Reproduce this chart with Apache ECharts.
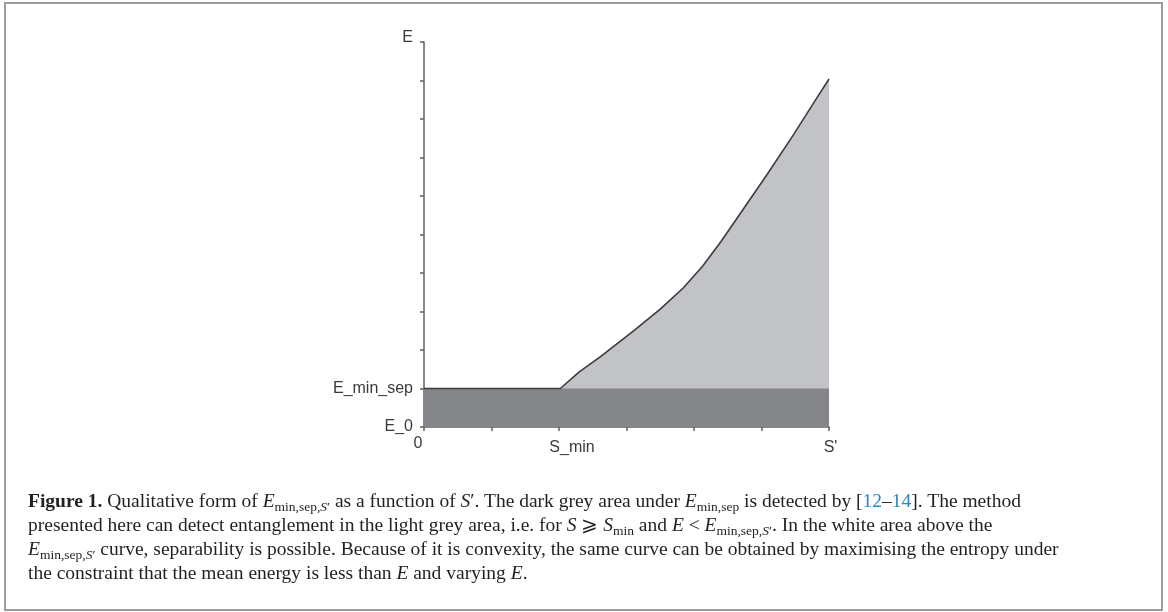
<!DOCTYPE html>
<html>
<head>
<meta charset="utf-8">
<script src="https://cdn.jsdelivr.net/npm/echarts@6/dist/echarts.min.js"></script>
<style>
  html, body { margin: 0; padding: 0; background: #fff; }
  #wrap { position: relative; width: 1168px; height: 612px; }
  #chart { position: absolute; left: 0; top: 0; width: 1168px; height: 612px; }
  #caption {
    position: absolute; left: 28px; top: 489px; width: 1130px;
    font-family: "Liberation Serif", "DejaVu Serif", serif;
    font-size: 19.5px; line-height: 24px; color: #231f20; white-space: nowrap;
  }
  #caption i { font-style: italic; }
  #caption sub { font-size: 13.5px; vertical-align: -4px; line-height: 0; }
  #caption .ref { color: #2a86c2; }
</style>
</head>
<body>
<div id="wrap">
  <div id="chart"></div>
  <div id="caption">
    <b>Figure 1.</b> Qualitative form of <i>E</i><sub>min,sep,<i>S</i>′</sub> as a function of <i>S</i>′. The dark grey area under <i>E</i><sub>min,sep</sub> is detected by [<span class="ref">12</span>–<span class="ref">14</span>]. The method<br>
    presented here can detect entanglement in the light grey area, i.e. for <i>S</i> ⩾ <i>S</i><sub>min</sub> and <i>E</i> &lt; <i>E</i><sub>min,sep,<i>S</i>′</sub>. In the white area above the<br>
    <i>E</i><sub>min,sep,<i>S</i>′</sub> curve, separability is possible. Because of it is convexity, the same curve can be obtained by maximising the entropy under<br>
    the constraint that the mean energy is less than <i>E</i> and varying <i>E</i>.
  </div>
</div>
<script>
// ---- data ----
const curveS = [0, 2.02, 2.30, 2.61, 3.10, 3.50, 3.84, 4.13, 4.40, 4.64, 5.08, 5.47, 5.82, 6.0];
const curveE = [1, 1.00, 1.43, 1.82, 2.49, 3.06, 3.61, 4.18, 4.82, 5.43, 6.55, 7.58, 8.55, 9.04];
const bandS = [0, 6];
const bandE = [1, 1];
const xTickValues = [0, 2, 6];
const xTickLabels = ['0', 'S_min', "S'"];
const yTickValues = [0, 1, 10];
const yTickLabels = ['E_0', 'E_min_sep', 'E'];

const curveData = curveS.map((s, i) => [s, curveE[i]]);
const bandData = bandS.map((s, i) => [s, bandE[i]]);

const chart = echarts.init(document.getElementById('chart'), null, { renderer: 'canvas' });
const axisColor = '#5f6063';
const labelColor = '#3a3a3a';

const option = {
  animation: false,
  backgroundColor: '#ffffff',
  graphic: [{
    type: 'rect',
    shape: { x: 5, y: 3, width: 1157, height: 607 },
    style: { fill: 'none', stroke: '#9c9c9c', lineWidth: 2 },
    silent: true
  }],
  grid: { left: 424, right: 339, top: 42, bottom: 185, containLabel: false },
  xAxis: {
    type: 'value', min: 0, max: 6, interval: 1,
    axisLine: { show: true, onZero: false, lineStyle: { color: axisColor, width: 1.5 } },
    axisTick: { show: true, length: 4, lineStyle: { color: axisColor, width: 1.5 } },
    splitLine: { show: false },
    axisLabel: {
      margin: 9, fontFamily: 'Liberation Sans, Arial, sans-serif', fontSize: 16, color: labelColor,
      formatter: function (v) {
        const k = xTickValues.indexOf(v);
        if (k < 0) return '';
        if (k === 0) return '{z|' + xTickLabels[k] + '}';
        if (k === 1) return '{m|' + xTickLabels[k] + '}';
        return '{e|' + xTickLabels[k] + '}';
      },
      rich: {
        z: { fontSize: 16, color: labelColor, padding: [0, 12, 0, 0] },
        m: { fontSize: 16, color: labelColor, padding: [4, 0, 0, 26] },
        e: { fontSize: 16, color: labelColor, padding: [4, 0, 0, 3] }
      }
    }
  },
  yAxis: {
    type: 'value', min: 0, max: 10, interval: 1,
    axisLine: { show: true, onZero: false, lineStyle: { color: axisColor, width: 1.5 } },
    axisTick: { show: true, length: 4, lineStyle: { color: axisColor, width: 1.5 } },
    splitLine: { show: false },
    axisLabel: {
      margin: 11, fontFamily: 'Liberation Sans, Arial, sans-serif', fontSize: 16, color: labelColor,
      formatter: function (v) {
        const k = yTickValues.indexOf(v);
        if (k < 0) return '';
        if (k === 2) return '{t|' + yTickLabels[k] + '}';
        return yTickLabels[k];
      },
      rich: {
        t: { fontSize: 16, color: labelColor, padding: [0, 0, 8, 0] }
      }
    }
  },
  series: [
    {
      type: 'line', data: curveData, symbol: 'none', smooth: false,
      lineStyle: { width: 0, opacity: 0 },
      areaStyle: { color: '#c2c3c6', opacity: 1 },
      z: 2, silent: true
    },
    {
      type: 'line', data: bandData, symbol: 'none',
      lineStyle: { width: 0, opacity: 0 },
      areaStyle: { color: '#858689', opacity: 1 },
      z: 3, silent: true
    },
    {
      type: 'line', data: curveData, symbol: 'none', smooth: false,
      lineStyle: { color: '#3c3c3e', width: 1.6, join: 'round' },
      z: 4, silent: true
    }
  ]
};
chart.setOption(option);
</script>
</body>
</html>
